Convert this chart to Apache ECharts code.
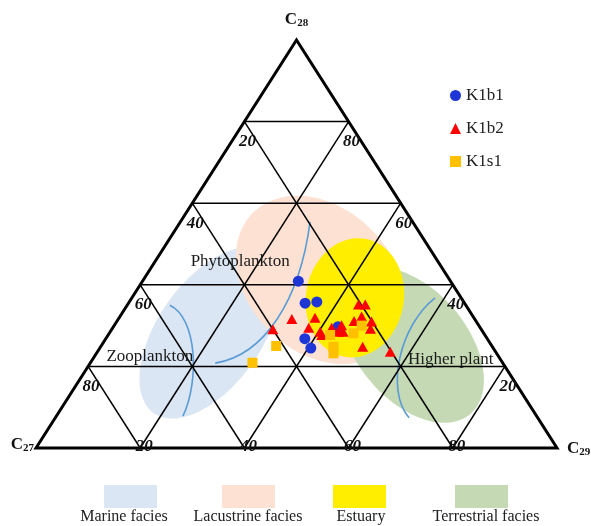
<!DOCTYPE html>
<html>
<head>
<meta charset="utf-8">
<script src="https://cdn.jsdelivr.net/npm/echarts@6/dist/echarts.min.js"></script>
<style>
  html, body { margin: 0; padding: 0; background: #ffffff; }
  #chart { width: 591px; height: 526px; }
</style>
</head>
<body>
<div id="chart"></div>
<script>
// Sterane distribution, percent of [C27, C28, C29]
const k1b1 = [
  [29.2, 40.9, 29.9], [30.6, 35.5, 33.9], [28.2, 35.8, 36.0],
  [35.0, 26.8, 38.2], [35.0, 24.5, 40.5], [27.2, 29.7, 43.1]
];
const k1b2 = [
  [40.0, 29.1, 30.9], [35.1, 31.6, 33.3], [30.5, 31.9, 37.6], [32.9, 29.5, 37.6],
  [31.2, 28.5, 40.3], [31.3, 27.7, 41.0], [28.5, 29.5, 42.0], [26.3, 30.1, 43.6],
  [26.8, 28.5, 44.7], [27.7, 28.5, 43.8], [20.5, 35.2, 44.3], [19.2, 35.2, 45.6],
  [21.4, 32.2, 46.4], [23.4, 31.1, 45.5], [20.1, 31.0, 48.9], [21.2, 29.2, 49.6],
  [24.9, 24.8, 50.3], [20.2, 23.6, 56.2]
];
const k1s1 = [
  [48.0, 20.9, 31.1], [41.4, 25.0, 33.6], [29.7, 27.7, 42.6], [25.0, 28.1, 46.9],
  [22.5, 30.0, 47.5], [30.5, 24.8, 44.7], [31.3, 23.2, 45.5]
];
const seriesNames = ['K1b1', 'K1b2', 'K1s1'];
const ticks = [20, 40, 60, 80];
const vertexNames = [['C', '27'], ['C', '28'], ['C', '29']];

// Facies envelopes: centre [C27, C28, C29], semi-axes in % of the base edge, tilt in degrees
const faciesNames = ['Marine facies', 'Lacustrine facies', 'Estuary', 'Terrestrial facies'];
const faciesCentres = [[52.5, 28.2, 19.3], [24.9, 41.2, 33.9], [20.4, 36.8, 42.8], [15.2, 25.2, 59.6]];
const faciesAxes = [[18.8, 10.0], [18.2, 13.8], [11.5, 9.4], [17.3, 10.6]];
const faciesTilt = [55, -45, 80, -50];

// Organic-source boundary curves, cubic Bezier control points [C27, C28, C29]
const sourceCurves = [
  [[56.8, 35.0, 8.2], [53.2, 31.9, 14.9], [60.2, 16.7, 23.1], [67.9, 7.8, 24.3]],
  [[55.2, 20.8, 24.0], [44.7, 22.8, 32.5], [31.2, 36.3, 32.5], [19.7, 55.4, 24.9]],
  [[5.0, 36.8, 58.2], [15.1, 30.1, 54.8], [25.9, 14.2, 59.9], [24.7, 7.4, 67.9]]
];
const sourceNames = ['Phytoplankton', 'Zooplankton', 'Higher plant'];
const sourceNamePos = [[38.0, 45.6, 16.4], [67.0, 22.3, 10.7], [9.6, 21.6, 68.8]];

// ternary [C27, C28, C29] -> cartesian (C29 to the right, C28 up)
function toXY(p) {
  const s = p[0] + p[1] + p[2];
  const b = p[1] / s * 100, c = p[2] / s * 100;
  return [c + b / 2, b];
}

const colors = { K1b1: '#1f36d6', K1b2: '#ff0000', K1s1: '#ffc000' };
const faciesColors = ['#dae6f3', '#fde2d3', '#ffee00', '#c5dab4'];
const serif = '"Liberation Serif", "Times New Roman", serif';

const chart = echarts.init(document.getElementById('chart'), null, { renderer: 'canvas' });

// ellipse outline in pixel space
function ellipsePoints(cx, cy, a, b, deg) {
  const t = deg * Math.PI / 180, pts = [];
  for (let i = 0; i < 90; i++) {
    const u = i / 90 * Math.PI * 2;
    const ex = a * Math.cos(u), ey = b * Math.sin(u);
    pts.push([cx + ex * Math.cos(t) - ey * Math.sin(t), cy - (ex * Math.sin(t) + ey * Math.cos(t))]);
  }
  return pts;
}

const drawOrder = [0, 1, 3, 2];

const faciesSeries = {
  type: 'custom',
  name: 'facies',
  z: 1,
  silent: true,
  clip: false,
  data: drawOrder.map(i => toXY(faciesCentres[i]).concat([i])),
  renderItem: function (params, api) {
    const i = api.value(2);
    const c = api.coord([api.value(0), api.value(1)]);
    const ppu = api.size([1, 0])[0];
    return {
      type: 'polygon',
      shape: { points: ellipsePoints(c[0], c[1], faciesAxes[i][0] * ppu, faciesAxes[i][1] * ppu, faciesTilt[i]) },
      style: { fill: faciesColors[i], stroke: null }
    };
  }
};

const curveSeries = {
  type: 'custom',
  name: 'curves',
  z: 2,
  silent: true,
  clip: false,
  data: sourceCurves.map((c, i) => toXY(c[0]).concat([i])),
  renderItem: function (params, api) {
    const cv = sourceCurves[api.value(2)].map(p => api.coord(toXY(p)));
    return {
      type: 'bezierCurve',
      shape: { x1: cv[0][0], y1: cv[0][1], cpx1: cv[1][0], cpy1: cv[1][1], cpx2: cv[2][0], cpy2: cv[2][1], x2: cv[3][0], y2: cv[3][1] },
      style: { stroke: '#5b9bd5', lineWidth: 1.6, fill: null }
    };
  }
};

// triangle frame, internal grid and all axis text
const frameSeries = {
  type: 'custom',
  name: 'frame',
  z: 3,
  silent: true,
  clip: false,
  data: [[0, 0]],
  renderItem: function (params, api) {
    const P = p => api.coord(toXY(p));
    const children = [];
    const seg = (p, q, w) => {
      const a = P(p), b = P(q);
      children.push({ type: 'line', shape: { x1: a[0], y1: a[1], x2: b[0], y2: b[1] }, style: { stroke: '#000', lineWidth: w } });
    };
    ticks.forEach(t => {
      seg([100 - t, t, 0], [0, t, 100 - t], 1.5);
      seg([t, 100 - t, 0], [t, 0, 100 - t], 1.5);
      seg([100 - t, 0, t], [0, 100 - t, t], 1.5);
    });
    const A = P([100, 0, 0]), B = P([0, 100, 0]), C = P([0, 0, 100]);
    children.push({ type: 'polygon', shape: { points: [A, B, C] }, style: { fill: null, stroke: '#000', lineWidth: 3, lineJoin: 'miter' } });

    const tickFont = 'italic bold 17px ' + serif;
    const txt = (p, dx, dy, text) => {
      const q = P(p);
      children.push({ type: 'text', x: q[0] + dx, y: q[1] + dy,
        style: { text: String(text), font: tickFont, fill: '#111', align: 'center', verticalAlign: 'middle' } });
    };
    ticks.forEach(t => {
      txt([t, 100 - t, 0], 3, 20, t);       // C27 scale, left edge
      txt([0, t, 100 - t], 3, 20, t);       // C28 scale, right edge
      txt([100 - t, 0, t], 4, -1, t);       // C29 scale, base
    });

    const vtx = (q, dx, dy, name, align) => {
      children.push({ type: 'text', x: q[0] + dx, y: q[1] + dy,
        style: {
          text: '{m|' + name[0] + '}{s|' + name[1] + '}', align: align, verticalAlign: 'middle',
          rich: {
            m: { font: 'bold 17px ' + serif, fill: '#111' },
            s: { font: 'bold 11px ' + serif, fill: '#111', verticalAlign: 'bottom', padding: [7, 0, 0, 0] }
          }
        } });
    };
    vtx(A, -2, -3, vertexNames[0], 'right');
    vtx(B, 0, -20, vertexNames[1], 'center');
    vtx(C, 10, 1, vertexNames[2], 'left');

    sourceNames.forEach((n, i) => {
      const q = P(sourceNamePos[i]);
      children.push({ type: 'text', x: q[0], y: q[1],
        style: { text: n, font: '17px ' + serif, fill: '#1a1a1a', align: 'center', verticalAlign: 'middle' } });
    });
    return { type: 'group', children: children };
  }
};

const markers = { K1b1: ['circle', 11], K1b2: ['triangle', [11, 10]], K1s1: ['rect', 10] };
const dataSets = { K1b1: k1b1, K1b2: k1b2, K1s1: k1s1 };
const scatterSeries = seriesNames.map(n => ({
  type: 'scatter',
  name: n,
  z: 5,
  symbol: markers[n][0],
  symbolSize: markers[n][1],
  itemStyle: { color: colors[n], opacity: 1 },
  data: dataSets[n].map(toXY)
}));

// facies key under the diagram
const keyX = [130, 248, 359, 481];
const keyTextX = [124, 248, 361, 486];
const faciesKey = [];
faciesNames.forEach((n, i) => {
  faciesKey.push({ type: 'rect', left: keyX[i] - 26, top: 485, shape: { width: 53, height: 23 }, style: { fill: faciesColors[i] } });
  faciesKey.push({ type: 'text', x: keyTextX[i], y: 517,
    style: { text: n, font: '16px ' + serif, fill: '#222', align: 'center', verticalAlign: 'middle' } });
});

chart.setOption({
  animation: false,
  backgroundColor: '#ffffff',
  grid: { left: 36, right: 34, top: 40, bottom: 78 },
  xAxis: { type: 'value', min: 0, max: 100, show: false },
  yAxis: { type: 'value', min: 0, max: 100, show: false },
  legend: {
    data: seriesNames,
    orient: 'vertical',
    left: 445,
    top: 82,
    itemWidth: 11,
    itemHeight: 11,
    itemGap: 16,
    textStyle: { fontFamily: serif, fontSize: 17, color: '#222' }
  },
  graphic: faciesKey,
  series: [faciesSeries, curveSeries, frameSeries].concat(scatterSeries)
});
</script>
</body>
</html>
